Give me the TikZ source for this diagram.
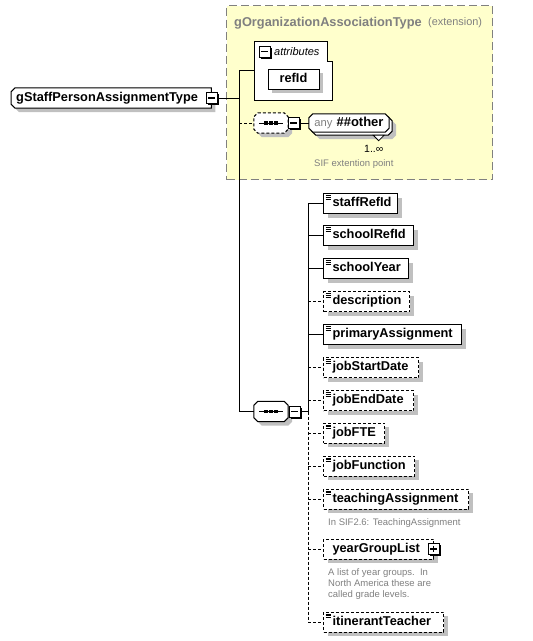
\documentclass[tikz,border=0pt]{standalone}
\usepackage{fontspec}
\setmainfont{Liberation Sans}
\usetikzlibrary{shadows}
\definecolor{extbg}{RGB}{255,255,204}
\definecolor{extframe}{RGB}{128,128,128}
\definecolor{shadowc}{RGB}{192,192,192}
\definecolor{notec}{RGB}{128,128,128}
\newcommand\elfont{\fontsize{12.8pt}{15pt}\selectfont\bfseries}
\newcommand\notefont{\fontsize{9.5pt}{11pt}\selectfont}
\newcommand\lbox[2]{\makebox[#1pt][l]{\hspace*{9pt}#2}}
\newcommand\octshape[5]{%
  \path[#1] ([xshift=#3+#5,yshift=#4]#2.north west) -- ([xshift=#3-#5,yshift=#4]#2.north east)
   -- ([xshift=#3,yshift=#4-#5]#2.north east) -- ([xshift=#3,yshift=#4+#5]#2.south east)
   -- ([xshift=#3-#5,yshift=#4]#2.south east) -- ([xshift=#3+#5,yshift=#4]#2.south west)
   -- ([xshift=#3,yshift=#4+#5]#2.south west) -- ([xshift=#3,yshift=#4-#5]#2.north west) -- cycle;}
\newcommand\lchamfshape[5]{%
  \path[#1] ([xshift=#3+#5,yshift=#4]#2.north west) -- ([xshift=#3,yshift=#4]#2.north east)
   -- ([xshift=#3,yshift=#4]#2.south east) -- ([xshift=#3+#5,yshift=#4]#2.south west)
   -- ([xshift=#3,yshift=#4+#5]#2.south west) -- ([xshift=#3,yshift=#4-#5]#2.north west) -- cycle;}
\pgfdeclarelayer{back}
\pgfdeclarelayer{mid}
\pgfsetlayers{back,mid,main}
\tikzset{
  conn/.style={line width=1pt},
  optconn/.style={line width=1pt, dash pattern=on 3pt off 2pt},
  boxbase/.style={anchor=west, draw, fill=white, line width=1pt, inner xsep=0pt, inner ysep=0pt,
    minimum height=20pt, text height=9.4pt, text depth=2.6pt, font=\elfont,
    general shadow={fill=shadowc, shadow xshift=4pt, shadow yshift=-4pt}},
  leaf/.style={boxbase, path picture={\foreach \k in {2,3.8,5.6}{\draw[solid, line width=0.7pt]
      ([xshift=2pt,yshift=-\k*1pt]path picture bounding box.north west) -- ++(5.5pt,0pt);}}},
  optleaf/.style={leaf, dash pattern=on 3pt off 2pt},
  optbox/.style={boxbase, dash pattern=on 3pt off 2pt},
  iconbox/.style={draw, fill=white, line width=1pt, minimum size=11pt, inner sep=0pt,
    general shadow={fill=black, shadow xshift=1.5pt, shadow yshift=-1.5pt}},
  minusicon/.style={iconbox, path picture={\draw[solid, line width=1.1pt]
      ([xshift=2.2pt]path picture bounding box.west) -- ([xshift=-2.2pt]path picture bounding box.east);}},
  plusicon/.style={iconbox, path picture={\draw[solid, line width=1.1pt]
      ([xshift=2.2pt]path picture bounding box.west) -- ([xshift=-2.2pt]path picture bounding box.east);
      \draw[solid, line width=1.1pt]
      ([yshift=-2.2pt]path picture bounding box.north) -- ([yshift=2.2pt]path picture bounding box.south);}},
  note/.style={anchor=base west, inner sep=0pt, text=notec, font=\notefont},
  geom/.style={inner sep=0pt, draw=none},
}
\begin{document}
\begin{tikzpicture}[x=1pt,y=-1pt]
\useasboundingbox (0,0) rectangle (533,641);

% extension box
\begin{pgfonlayer}{back}
\node[draw=extframe, fill=extbg, line width=1.3pt, dash pattern=on 8pt off 4pt, anchor=north west,
      minimum width=266pt, minimum height=174pt, inner sep=0pt] (ext) at (226,5) {};
\end{pgfonlayer}
\node[anchor=base west, inner sep=0pt, text=extframe, font=\elfont] (exttitle) at (234,26.5) {gOrganizationAssociationType};
\node[anchor=base west, inner sep=0pt, text=extframe, font=\fontsize{10.9pt}{13pt}\selectfont] (extlabel)
      at ([xshift=6pt,yshift=1pt]exttitle.base east) {(extension)};

% attributes
\node[geom, anchor=north west, minimum width=78pt, minimum height=59pt] (attr) at (254,41) {};
\draw[fill=white, line width=1pt] (attr.north west) -- ([xshift=-5pt]attr.north east)
   -- ([xshift=-5pt,yshift=-20pt]attr.north east) -- ([yshift=-20pt]attr.north east)
   -- (attr.south east) -- (attr.south west) -- cycle;
\node[minusicon] (attrm) at (264.5,51.5) {};
\node[anchor=base west, inner sep=0pt, font=\fontsize{11pt}{13pt}\selectfont\itshape] (attrlabel) at (274,55.5) {attributes};
\node[boxbase, anchor=center, minimum width=51pt] (refId) at (293.5,79) {refId};

% main node
\node[geom, anchor=west, minimum height=20pt, text height=9.4pt, text depth=2.6pt, font=\elfont] (main)
      at (11,98) {\makebox[200pt][l]{\hspace*{5pt}gStaffPersonAssignmentType}};
\begin{pgfonlayer}{mid}
\lchamfshape{fill=shadowc}{main}{4pt}{-4pt}{4pt}
\lchamfshape{draw, fill=white, line width=1pt}{main}{0pt}{0pt}{4pt}
\end{pgfonlayer}
\node[minusicon] (mainm) at (211.5,98) {};

% sequence 1 (optional)
\node[geom, minimum width=34pt, minimum height=20pt] (seq1) at (271,123) {};
\begin{pgfonlayer}{mid}
\octshape{fill=shadowc}{seq1}{4pt}{-4pt}{4pt}
\octshape{draw, fill=white, line width=1pt, dash pattern=on 3pt off 2pt}{seq1}{0pt}{0pt}{4pt}
\end{pgfonlayer}
\draw[line width=1pt] ([xshift=-12pt]seq1.center) -- ([xshift=12pt]seq1.center);
\foreach \d in {-5,0,5} \fill ([xshift=\d*1pt-1.6pt,yshift=-1.6pt]seq1.center) rectangle ([xshift=\d*1pt+1.6pt,yshift=1.6pt]seq1.center);
\node[minusicon] (seq1m) at (293.5,123) {};

% any ##other
\node[geom, minimum width=80pt, minimum height=18pt, font=\fontsize{13pt}{15pt}\selectfont\bfseries] (anyf) at (349,123)
   {{\mdseries\color{notec}\fontsize{11.2pt}{13pt}\selectfont any}\hspace{4pt}\#\#other};
\begin{pgfonlayer}{mid}
\octshape{fill=shadowc}{anyf}{7pt}{-7pt}{4pt}
\octshape{draw, fill=white, line width=1pt}{anyf}{3pt}{-3pt}{4pt}
\draw[fill=white, line width=0.8pt] ([xshift=-16pt,yshift=-3pt]anyf.south east) -- ([xshift=-5pt,yshift=-3pt]anyf.south east)
   -- ([xshift=-10.5pt,yshift=-8.5pt]anyf.south east) -- cycle;
\octshape{draw, fill=white, line width=1pt}{anyf}{0pt}{0pt}{4pt}
\end{pgfonlayer}
\node[anchor=base west, inner sep=0pt, font=\fontsize{10.5pt}{12pt}\selectfont] (mult) at (364,152) {1..∞};
\node[note] (sifnote) at (314,166) {SIF extention point};

% sequence 2 (required)
\node[geom, minimum width=34pt, minimum height=20pt] (seq2) at (271,411.5) {};
\begin{pgfonlayer}{mid}
\octshape{fill=shadowc}{seq2}{4pt}{-4pt}{4pt}
\octshape{draw, fill=white, line width=1pt}{seq2}{0pt}{0pt}{4pt}
\end{pgfonlayer}
\draw[line width=1pt] ([xshift=-12pt]seq2.center) -- ([xshift=12pt]seq2.center);
\foreach \d in {-5,0,5} \fill ([xshift=\d*1pt-1.6pt,yshift=-1.6pt]seq2.center) rectangle ([xshift=\d*1pt+1.6pt,yshift=1.6pt]seq2.center);
\node[minusicon] (seq2m) at (294.5,411.5) {};

% children
\node[leaf] (staffRefId) at (323,203.5) {\lbox{74}{staffRefId}};
\node[leaf] (schoolRefId) at (323,235.5) {\lbox{90}{schoolRefId}};
\node[leaf] (schoolYear) at (323,268.5) {\lbox{85}{schoolYear}};
\node[optleaf] (description) at (323,301.5) {\lbox{86}{description}};
\node[leaf] (primaryAssignment) at (323,334.5) {\lbox{138}{primaryAssignment}};
\node[optleaf] (jobStartDate) at (323,367.5) {\lbox{95}{jobStartDate}};
\node[optleaf] (jobEndDate) at (323,400.5) {\lbox{90}{jobEndDate}};
\node[optleaf] (jobFTE) at (323,433) {\lbox{61}{jobFTE}};
\node[optleaf] (jobFunction) at (323,466) {\lbox{91}{jobFunction}};
\node[optleaf] (teachingAssignment) at (323,499) {\lbox{145}{teachingAssignment}};
\node[note] (tanote) at (328,525.5) {In SIF2.6: TeachingAssignment};
\node[optbox] (yearGroupList) at (323,549) {\lbox{110}{yearGroupList}};
\node[plusicon] (yearp) at (433.5,549) {};
\node[note, anchor=north west, align=left] (ygnote) at (328,568) {A list of year groups.\ \ In\\North America these are\\called grade levels.};
\node[optleaf] (itinerantTeacher) at (323,622) {\lbox{120}{itinerantTeacher}};

% connectors
\coordinate (j1) at (239,98);
\coordinate (j2) at (308,411.5);
\draw[conn] (mainm.east) -- (j1);
\draw[conn] (attr.west -| j1) -- (seq2.west -| j1) -- (seq2.west);
\draw[conn] (attr.west -| j1) -- (attr.west);
\draw[optconn] (seq1.west -| j1) -- (seq1.west);
\draw[conn] (seq1m.east) -- (anyf.west);
\draw[conn] (seq2m.east) -- (j2);
\draw[conn] (j2) -- (j2 |- staffRefId.west);
\draw[optconn] (j2) -- (j2 |- itinerantTeacher.west);
\foreach \n in {staffRefId,schoolRefId,schoolYear,primaryAssignment}
  \draw[conn] (j2 |- \n.west) -- (\n.west);
\foreach \n in {description,jobStartDate,jobEndDate,jobFTE,jobFunction,teachingAssignment,yearGroupList,itinerantTeacher}
  \draw[optconn] (j2 |- \n.west) -- (\n.west);
\end{tikzpicture}
\end{document}
